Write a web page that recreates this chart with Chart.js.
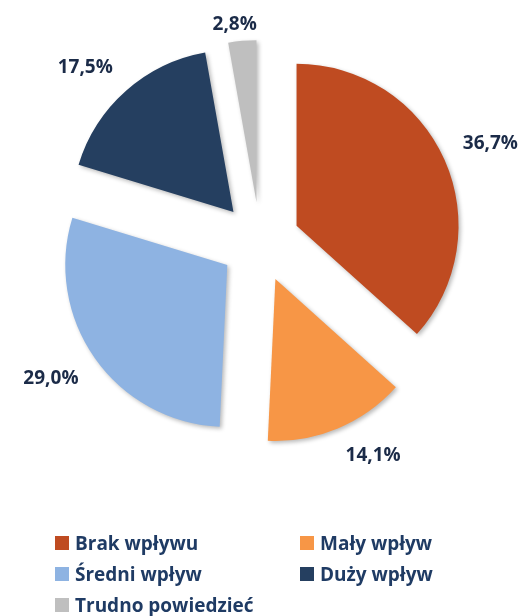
<!DOCTYPE html>
<html>
<head>
<meta charset="utf-8">
<script src="https://cdn.jsdelivr.net/npm/chart.js@4.4.1/dist/chart.umd.min.js"></script>
<style>
  html, body { margin: 0; padding: 0; background: #fff; }
  #wrap { position: relative; width: 530px; height: 616px; }
  #pie { position: absolute; left: 0; top: 0; }
  #legend {
    position: absolute; left: 55px; top: 527px; width: 470px;
    display: grid; grid-template-columns: 245px 225px; grid-auto-rows: 31px;
    font-family: "Open Sans", sans-serif; font-weight: 700; font-size: 19px; color: #1F3B64;
  }
  .item { display: flex; align-items: center; white-space: nowrap; }
  .box { width: 14px; height: 14px; margin-right: 6px; flex: none; }
</style>
</head>
<body>
<div id="wrap">
  <canvas id="pie" width="530" height="616"></canvas>
  <div id="legend"></div>
</div>
<script>
// Data
const categories = ['Brak wpływu', 'Mały wpływ', 'Średni wpływ', 'Duży wpływ', 'Trudno powiedzieć'];
const shares = [36.7, 14.1, 29.0, 17.5, 2.8];
const colors = ['#BF4B21', '#F79646', '#8EB3E2', '#253F60', '#BFBFBF'];

const EXPLODE = 40;      // how far each slice is pulled out
const LABEL_GAP = 20;
const labelFont = '700 19px "Open Sans", sans-serif';

const fmt = v => v.toFixed(1).replace('.', ',') + '%';
const clamp1 = v => Math.max(-1, Math.min(1, v));

// draw slices ourselves so each one can be pushed out along its middle angle
const explodePlugin = {
    id: 'explode',
    beforeDatasetDraw(chart, args) {
        const ctx = chart.ctx;
        args.meta.data.forEach(arc => {
            const mid = (arc.startAngle + arc.endAngle) / 2;
            ctx.save();
            ctx.shadowColor = 'rgba(0,0,0,0.28)';
            ctx.shadowBlur = 4;
            ctx.shadowOffsetX = 2;
            ctx.shadowOffsetY = 2;
            ctx.translate(Math.cos(mid) * EXPLODE, Math.sin(mid) * EXPLODE);
            arc.draw(ctx);
            ctx.restore();
        });
        return false;
    }
};

// percent labels outside each slice: nearest corner of the text box sits just past the rim
const labelPlugin = {
    id: 'outLabels',
    afterDatasetsDraw(chart) {
        const ctx = chart.ctx;
        const meta = chart.getDatasetMeta(0);
        ctx.save();
        ctx.font = labelFont;
        ctx.fillStyle = '#1B2B48';
        ctx.textAlign = 'center';
        ctx.textBaseline = 'middle';
        meta.data.forEach((arc, i) => {
            const text = fmt(shares[i]);
            const w = ctx.measureText(text).width;
            const h = 17;
            const mid = (arc.startAngle + arc.endAngle) / 2;
            const dx = Math.cos(mid), dy = Math.sin(mid);
            const d = EXPLODE + arc.outerRadius + LABEL_GAP;
            let x = arc.x + dx * d + clamp1(dx * 3) * w / 2;
            let y = arc.y + dy * d + clamp1(dy * 3) * h / 2;
            y = Math.max(y, h / 2 + 16);
            ctx.fillText(text, x, y);
        });
        ctx.restore();
    }
};

new Chart(document.getElementById('pie'), {
    type: 'pie',
    data: {
        labels: categories,
        datasets: [{
            data: shares,
            backgroundColor: colors,
            borderWidth: 0,
            hoverOffset: 0
        }]
    },
    options: {
        responsive: false,
        animation: false,
        events: [],
        layout: { padding: { left: 98, right: 108, top: 80, bottom: 212 } },
        plugins: {
            legend: { display: false },
            tooltip: { enabled: false }
        }
    },
    plugins: [explodePlugin, labelPlugin]
});

// Legend
const legend = document.getElementById('legend');
categories.forEach((name, i) => {
    const item = document.createElement('div');
    item.className = 'item';
    item.innerHTML = `<span class="box" style="background:${colors[i]}"></span><span>${name}</span>`;
    legend.appendChild(item);
});
</script>
</body>
</html>
